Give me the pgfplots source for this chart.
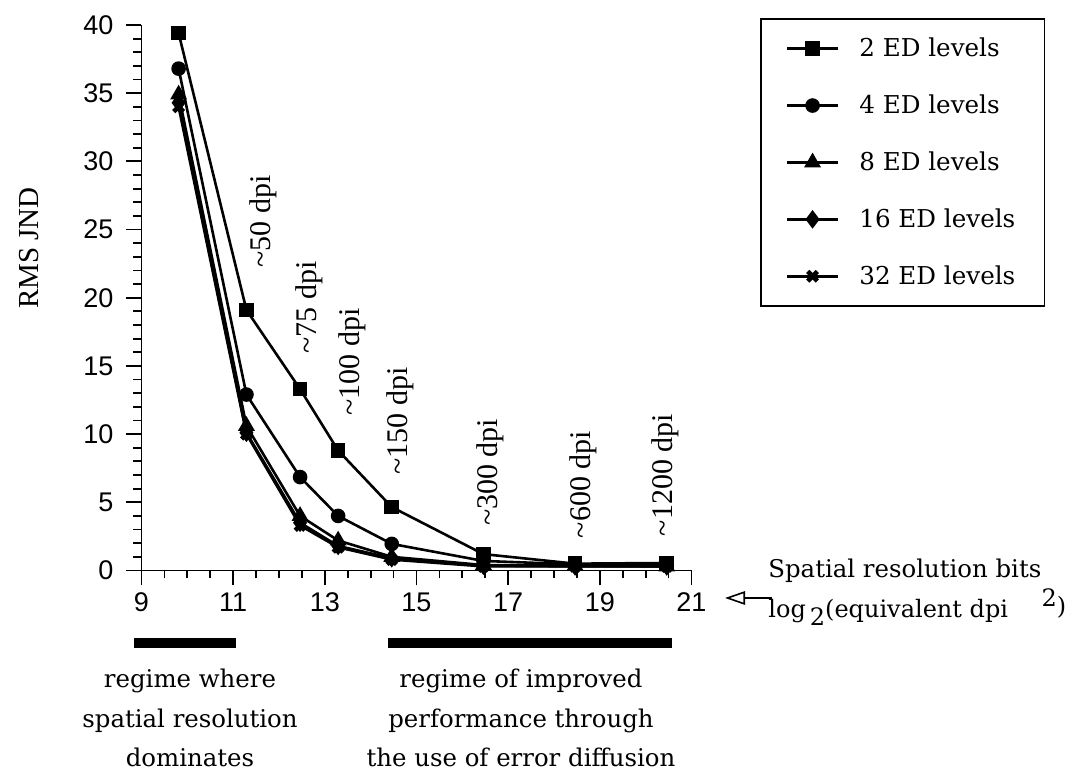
\documentclass[border=0pt]{standalone}
\usepackage{pgfplots}
\pgfplotsset{compat=1.18}
\usetikzlibrary{arrows.meta}
\usepackage{fontspec}
\setmainfont{DejaVu Serif}
\newfontfamily\tnr{Liberation Serif}
\newfontfamily\arial{Liberation Sans}
\begin{document}
\begin{tikzpicture}
\useasboundingbox (0,0) rectangle (536.5pt,385pt);
\begin{axis}[
  at={(70.75pt,99.75pt)}, anchor=south west,
  scale only axis, width=275pt, height=272.75pt,
  xmin=9, xmax=21, ymin=0, ymax=40,
  axis lines=left, axis line style={-, line width=0.9pt},
  xtick={9,11,...,21}, ytick={0,5,...,40},
  minor x tick num=3, minor y tick num=4,
  tick align=outside, major tick length=7.5pt, minor tick length=4pt,
  tick style={black, line width=0.9pt},
  /pgf/number format/assume math mode=true,
  ticklabel style={font=\arial\fontsize{13.5}{15}\selectfont},
  yticklabel style={xshift=-3pt},
  clip=false,
  legend style={at={(1.1245,1.0128)}, anchor=north west, draw=black, line width=0.8pt,
    inner xsep=12.5pt, inner ysep=7.5pt, row sep=13.6pt,
    font=\fontsize{12.3}{14}\selectfont,
    /tikz/every odd column/.append style={column sep=8pt}},
  legend cell align=left,
  legend image code/.code={\draw[mark repeat=2,mark phase=2,#1] plot coordinates {(0pt,0pt)(12.75pt,0pt)(25.5pt,0pt)};},
  every axis plot/.append style={black, line width=1.3pt},
]
\addplot[mark=square*, mark size=3pt] coordinates {(9.81,39.4)(11.29,19.1)(12.46,13.3)(13.29,8.8)(14.46,4.65)(16.46,1.2)(18.46,0.5)(20.46,0.55)};
\addlegendentry{2 ED levels}
\addplot[mark=*, mark size=3pt] coordinates {(9.81,36.8)(11.29,12.9)(12.46,6.85)(13.29,4.0)(14.46,1.95)(16.46,0.7)(18.46,0.45)(20.46,0.4)};
\addlegendentry{4 ED levels}
\addplot[mark=triangle*, mark size=3.6pt] coordinates {(9.81,34.9)(11.29,10.6)(12.46,4.0)(13.29,2.2)(14.46,1.0)(16.46,0.4)(18.46,0.35)(20.46,0.3)};
\addlegendentry{8 ED levels}
\addplot[mark=diamond*, mark size=3.6pt] coordinates {(9.81,34.3)(11.29,10.1)(12.46,3.5)(13.29,1.8)(14.46,0.9)(16.46,0.35)(18.46,0.3)(20.46,0.3)};
\addlegendentry{16 ED levels\hspace{9pt}}
\addplot[mark=x, mark size=3.4pt, mark options={line width=2.3pt}] coordinates {(9.81,34.0)(11.29,10.0)(12.46,3.3)(13.29,1.7)(14.46,0.8)(16.46,0.3)(18.46,0.3)(20.46,0.3)};
\addlegendentry{32 ED levels}
\begin{scope}[every node/.style={rotate=90, font=\tnr\fontsize{15}{17}\selectfont}]
\node at (axis cs:11.65,25.6) {\textasciitilde 50 dpi};
\node at (axis cs:12.65,19.3) {\textasciitilde 75 dpi};
\node at (axis cs:13.59,15.3) {\textasciitilde 100 dpi};
\node at (axis cs:14.64,10.96) {\textasciitilde 150 dpi};
\node at (axis cs:16.60,7.2) {\textasciitilde 300 dpi};
\node at (axis cs:18.63,6.3) {\textasciitilde 600 dpi};
\node at (axis cs:20.42,7.0) {\textasciitilde 1200 dpi};
\end{scope}
\end{axis}
\node[rotate=90, font=\tnr\fontsize{14.5}{16}\selectfont] at (14.5pt,261pt) {RMS JND};
\node[anchor=base west, inner sep=0pt, font=\fontsize{12.2}{14}\selectfont] at (384pt,96pt) {Spatial resolution bits};
\node[anchor=base west, inner sep=0pt, font=\fontsize{12}{14}\selectfont] at (384pt,76pt) {log\,\raisebox{-0.6ex}{2}(equivalent dpi\hspace{1.4em}\raisebox{0.9ex}{2}\raisebox{0.3ex}{)}};
\draw[line width=0.8pt, -{Triangle[open, length=10pt, width=6.7pt, line width=0.8pt]}] (386pt,86pt) -- (362.5pt,86pt);
\draw[line width=5pt] (67pt,63.5pt) -- (118pt,63.5pt);
\draw[line width=5pt] (194pt,63.5pt) -- (336pt,63.5pt);
\node[align=center, font=\fontsize{12.2}{19.75}\selectfont] at (95pt,26pt) {regime where\\spatial resolution\\dominates};
\node[align=center, font=\fontsize{12.2}{19.75}\selectfont] at (260.5pt,26pt) {regime of improved\\performance through\\the use of error diffusion};
\end{tikzpicture}
\end{document}
